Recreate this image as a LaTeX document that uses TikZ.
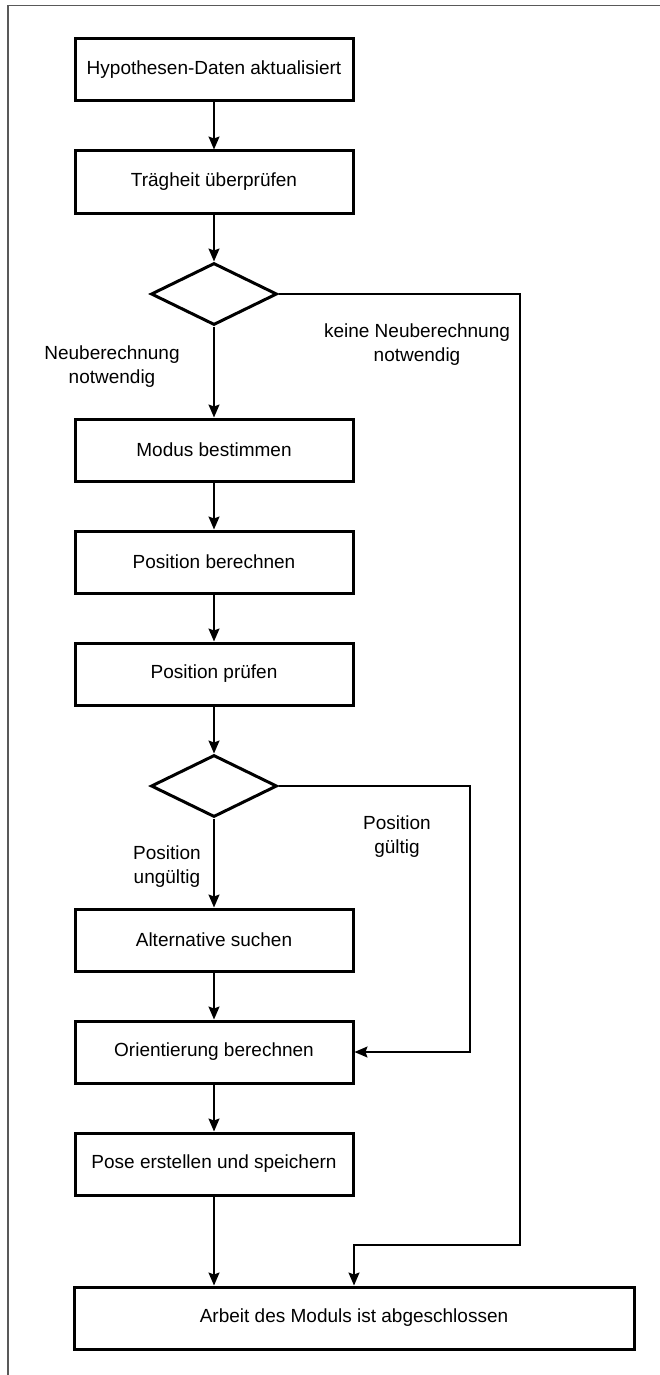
\documentclass[tikz,border=0pt]{standalone}
\usepackage{fontspec}
\setmainfont{Liberation Sans}
\usetikzlibrary{arrows.meta,shapes.geometric}
\begin{document}
\begin{tikzpicture}[x=1pt,y=-1pt,
  stepbox/.style={draw, line width=3pt, minimum width=278pt, minimum height=62pt,
    inner sep=0pt, font=\fontsize{19}{23}\selectfont},
  decision/.style={draw, diamond, line width=3pt, minimum width=126pt,
    minimum height=62pt, inner sep=0pt},
  flow/.style={line width=1.5pt, -{Stealth[length=13pt,width=11pt,inset=2pt]}},
  lbl/.style={align=center, inner sep=0pt, font=\fontsize{19}{24}\selectfont}]
  \useasboundingbox (0,0) rectangle (660,1375);
  % outer frame, open at right and bottom
  \draw[gray!70!black, line width=1.5pt] (8,1375) -- (8,5.5) -- (660,5.5);

  % process steps
  \node[stepbox] (b1) at (214,70)   {Hypothesen-Daten aktualisiert};
  \node[stepbox] (b2) at (214,182)  {Trägheit überprüfen};
  \node[decision] (d1) at (214,294) {};
  \node[stepbox] (b3) at (214,450)  {Modus bestimmen};
  \node[stepbox] (b4) at (214,562)  {Position berechnen};
  \node[stepbox] (b5) at (214,674)  {Position prüfen};
  \node[decision] (d2) at (214,786) {};
  \node[stepbox] (b6) at (214,940)  {Alternative suchen};
  \node[stepbox] (b7) at (214,1052) {Orientierung berechnen};
  \node[stepbox] (b8) at (214,1164) {Pose erstellen und speichern};
  \node[stepbox, minimum width=560pt] (b9) at (354,1318) {Arbeit des Moduls ist abgeschlossen};

  % branch corners
  \coordinate (r1) at (520,1245);
  \coordinate (r2) at (470,1052);

  % main flow
  \draw[flow] (b1) -- (b2);
  \draw[flow] (b2) -- (d1);
  \draw[flow] (d1) -- (b3);
  \draw[flow] (b3) -- (b4);
  \draw[flow] (b4) -- (b5);
  \draw[flow] (b5) -- (d2);
  \draw[flow] (d2) -- (b6);
  \draw[flow] (b6) -- (b7);
  \draw[flow] (b7) -- (b8);
  \draw[flow] (b8) -- (b8.south |- b9.north);

  % bypass branches
  \draw[flow] (d1.east) -| (r1) -| (b9.north);
  \draw[flow] (d2.east) -| (r2) -- (b7.east);

  % branch labels
  \node[lbl] (l1) at (112,367) {Neuberechnung\\notwendig};
  \node[lbl] (l2) at (417,345) {keine Neuberechnung\\notwendig};
  \node[lbl] (l3) at (167,867) {Position\\ungültig};
  \node[lbl] (l4) at (397,837) {Position\\gültig};
\end{tikzpicture}
\end{document}
